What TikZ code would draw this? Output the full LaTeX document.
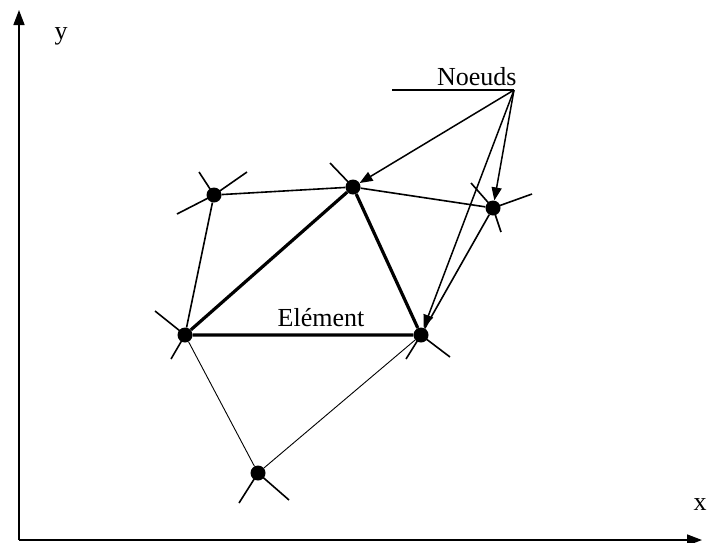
\documentclass[tikz,border=0pt]{standalone}
\usepackage{fontspec}
\setmainfont{Liberation Serif}
\usepackage{tikz}
\usetikzlibrary{arrows.meta, positioning}

\begin{document}
\begin{tikzpicture}[x=1pt, y=-1pt,
  noeud/.style={circle, fill, inner sep=0pt, minimum size=15pt},
  arete/.style={line width=1.6pt},
  epais/.style={line width=3.2pt},
  fin/.style={line width=0.9pt},
  fleche/.style={line width=1.5pt, -{Triangle[length=13pt, width=10pt]}},
  every node/.style={font=\fontsize{26}{30}\selectfont}]
\useasboundingbox (0,0) rectangle (708,542);
%
\node[noeud] (a) at (214,195) {};
\node[noeud] (b) at (353,187) {};
\node[noeud] (c) at (493,208) {};
\node[noeud] (d) at (185,335) {};
\node[noeud] (e) at (421,335) {};
\node[noeud] (f) at (258,473) {};
%
\coordinate (o) at (19,540);
\coordinate (ytip) at (19,10);
\coordinate (xtip) at (702,540);
\draw[line width=1.6pt, -{Triangle[length=15pt, width=11pt]}] (o) -- (ytip);
\draw[line width=1.6pt, -{Triangle[length=15pt, width=11pt]}] (o) -- (xtip);
\node (ylab) at (61,36) {y};
\node (xlab) at (700,505) {x};
%
\draw[arete] (a) -- (b) (a) -- (d) (b) -- (c) (c) -- (e);
\draw[epais] (b) -- (d) (b) -- (e) (d) -- (e);
\draw[fin] (d) -- (f) (f) -- (e);
\node (elem) at (321,318) {Elément};
%
\foreach \n/\dx/\dy in {a/-15/-23, a/33/-23, a/-37/19, b/-23/-24,
    c/-22/-25, c/39/-14, c/8/24, d/-30/-24, d/-14/24,
    e/29/22, e/-15/24, f/-19/30, f/31/27}
  \draw[arete] (\n.center) -- ++(\dx,\dy);
%
\coordinate (pt) at (514,90);
\coordinate (trait) at (392,90);
\node[above left=1pt and -6pt of pt] (noeuds) {Noeuds};
\draw[arete] (trait) -- (pt);
\draw[fleche] (pt) -- (b);
\draw[fleche] (pt) -- (c);
\draw[fleche] (pt) -- (e);
%
\end{tikzpicture}
\end{document}
